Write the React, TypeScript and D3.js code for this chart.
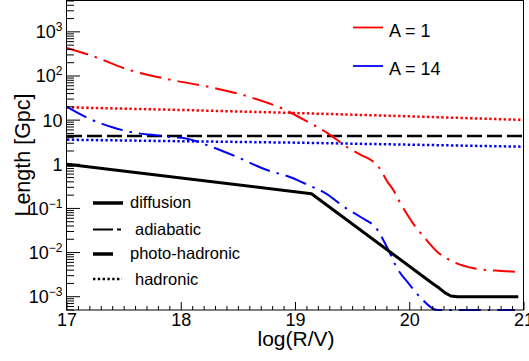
import * as d3 from 'd3';

const W = 529;
const H = 361;

// log(R/V) sample points and Length [Gpc]
const diffusionX = [17.0, 19.14, 20.2, 20.26, 20.31, 20.36, 20.42, 20.95];
const diffusionY = [1.0, 0.215, 0.002, 0.00155, 0.00122, 0.00104, 0.001, 0.001];

const adiabaticA1X = [17.0, 17.2, 17.55, 17.92, 18.25, 18.63, 18.9, 19.11, 19.28, 19.45, 19.585, 19.673, 19.734, 19.8, 19.86, 19.9, 19.99, 20.05, 20.11, 20.24, 20.38, 20.56, 20.75, 20.92];
const adiabaticA1Y = [430, 298, 136, 81, 56, 31.6, 17.5, 9.05, 5.1, 2.46, 1.58, 1.19, 0.82, 0.42, 0.25, 0.16, 0.065, 0.0385, 0.025, 0.0105, 0.0062, 0.0044, 0.0039, 0.0037];

const adiabaticA14X = [17.0, 17.18, 17.39, 17.61, 17.76, 17.92, 18.03, 18.27, 18.49, 18.75, 18.95, 19.11, 19.26, 19.44, 19.57, 19.72, 19.8, 19.9, 19.99, 20.09, 20.24, 20.35, 20.92];
const adiabaticA14Y = [19.9, 11.2, 7.0, 5.1, 4.6, 4.1, 3.9, 2.46, 1.46, 0.74, 0.515, 0.34, 0.223, 0.102, 0.064, 0.032, 0.0134, 0.004, 0.002, 0.00098, 0.0005, 0.0003, 0.0003];

const hadronicA1X = [17, 18, 19, 20, 21];
const hadronicA1Y = [19.5, 17.0, 14.5, 12.2, 10.1];

const hadronicA14X = [17, 18, 19, 20, 21];
const hadronicA14Y = [3.6, 3.33, 3.09, 2.78, 2.5];

const photoX = [17, 21];
const photoY = [4.4, 4.4];

const xTicks = [17, 18, 19, 20, 21];
const yTickExp = [-3, -2, -1, 0, 1, 2, 3];

const legendA = [
  { label: 'A = 1', color: '#ff0000' },
  { label: 'A = 14', color: '#0000ff' },
];

const legendStyle = ['diffusion', 'adiabatic', 'photo-hadronic', 'hadronic'];

const font = '"Liberation Sans", Arial, Helvetica, sans-serif';

type Pt = { x: number; y: number };
const zip = (xs: number[], ys: number[]): Pt[] => xs.map((x, i) => ({ x, y: ys[i] }));

export default function App() {
  const x = d3.scaleLinear().domain([17, 21]).range([67, 524]);
  const y = d3.scaleLog().domain([5e-4, 5000]).range([310, 1]).clamp(true);

  const linear = d3.line<Pt>().x(d => x(d.x)).y(d => y(d.y));
  const smooth = d3.line<Pt>().x(d => x(d.x)).y(d => y(d.y)).curve(d3.curveMonotoneX);

  const dashDot = '22,7,2.5,7';
  const dotted = '2.4,2.4';
  const dashed = '15,5';

  // minor ticks
  const xMinor = d3.range(170, 211).map(v => v / 10).filter(v => !xTicks.includes(v));
  const yMinor: number[] = [];
  for (let e = -4; e <= 3; e++) {
    for (let m = 2; m <= 9; m++) {
      const v = m * Math.pow(10, e);
      if (v >= 5e-4 && v <= 5000) yMinor.push(v);
    }
  }

  const expLabel = (e: number) => {
    if (e === 0) return <tspan>1</tspan>;
    if (e === 1) return <tspan>10</tspan>;
    return (
      <>
        <tspan>10</tspan>
        <tspan fontSize={12} dy={-7}>{e < 0 ? '\u2212' + Math.abs(e) : e}</tspan>
      </>
    );
  };

  return (
    <svg width={W} height={H} style={{ position: 'absolute', left: 0, top: 0, background: '#fff' }} fontFamily={font}>
      <rect x={0} y={0} width={W} height={H} fill="#fff" />

      {/* curves */}
      <path d={linear(zip(hadronicA1X, hadronicA1Y)) || ''} fill="none" stroke="#ff0000" strokeWidth={2.5} strokeDasharray={dotted} />
      <path d={linear(zip(hadronicA14X, hadronicA14Y)) || ''} fill="none" stroke="#0000ff" strokeWidth={2.5} strokeDasharray={dotted} />
      <path d={linear(zip(photoX, photoY)) || ''} fill="none" stroke="#000" strokeWidth={2.5} strokeDasharray={dashed} />
      <path d={smooth(zip(adiabaticA1X, adiabaticA1Y)) || ''} fill="none" stroke="#ff0000" strokeWidth={2} strokeDasharray={dashDot} />
      <path d={smooth(zip(adiabaticA14X, adiabaticA14Y)) || ''} fill="none" stroke="#0000ff" strokeWidth={2} strokeDasharray={dashDot} />
      <path d={linear(zip(diffusionX, diffusionY)) || ''} fill="none" stroke="#000" strokeWidth={3} strokeLinejoin="round" />

      {/* frame */}
      <rect x={66.5} y={0.5} width={457} height={309.5} fill="none" stroke="#000" strokeWidth={1} />

      {/* x ticks */}
      {xTicks.map(t => (
        <line key={'xM' + t} x1={x(t)} x2={x(t)} y1={310} y2={302} stroke="#000" />
      ))}
      {xMinor.map(t => (
        <line key={'xm' + t} x1={x(t)} x2={x(t)} y1={310} y2={306} stroke="#000" />
      ))}
      {xTicks.map(t => (
        <text key={'xl' + t} x={x(t)} y={325.5} fontSize={18} textAnchor="middle">{t}</text>
      ))}

      {/* y ticks */}
      {yTickExp.map(e => (
        <line key={'yM' + e} x1={67} x2={80} y1={y(Math.pow(10, e))} y2={y(Math.pow(10, e))} stroke="#000" />
      ))}
      {yMinor.map(v => (
        <line key={'ym' + v} x1={67} x2={74} y1={y(v)} y2={y(v)} stroke="#000" />
      ))}
      {yTickExp.map(e => (
        <text key={'yl' + e} x={62.5} y={y(Math.pow(10, e)) + 6.5} fontSize={18} textAnchor="end">{expLabel(e)}</text>
      ))}

      {/* axis titles */}
      <text x={296} y={346} fontSize={21} textAnchor="middle">log(R/V)</text>
      <text transform="translate(30,155) rotate(-90)" fontSize={21.5} textAnchor="middle">Length [Gpc]</text>

      {/* legend: mass number */}
      {legendA.map((d, i) => (
        <g key={d.label} transform={`translate(0,${i * 38.5})`}>
          <line x1={353} x2={383} y1={27.5} y2={27.5} stroke={d.color} strokeWidth={1.8} />
          <text x={389} y={36.8} fontSize={18}>{d.label}</text>
        </g>
      ))}

      {/* legend: process */}
      <line x1={93} x2={123} y1={203} y2={203} stroke="#000" strokeWidth={3.5} />
      <text x={130} y={208} fontSize={16.5}>{legendStyle[0]}</text>
      <line x1={93} x2={113} y1={229.5} y2={229.5} stroke="#000" strokeWidth={2} />
      <line x1={117} x2={121} y1={229.5} y2={229.5} stroke="#000" strokeWidth={2} />
      <text x={135} y={234.5} fontSize={16.5}>{legendStyle[1]}</text>
      <line x1={93} x2={113} y1={254} y2={254} stroke="#000" strokeWidth={3.5} />
      <text x={130} y={259} fontSize={16.5}>{legendStyle[2]}</text>
      <line x1={93} x2={122} y1={279} y2={279} stroke="#000" strokeWidth={2.5} strokeDasharray={dotted} />
      <text x={135} y={284.5} fontSize={16.5}>{legendStyle[3]}</text>
    </svg>
  );
}
